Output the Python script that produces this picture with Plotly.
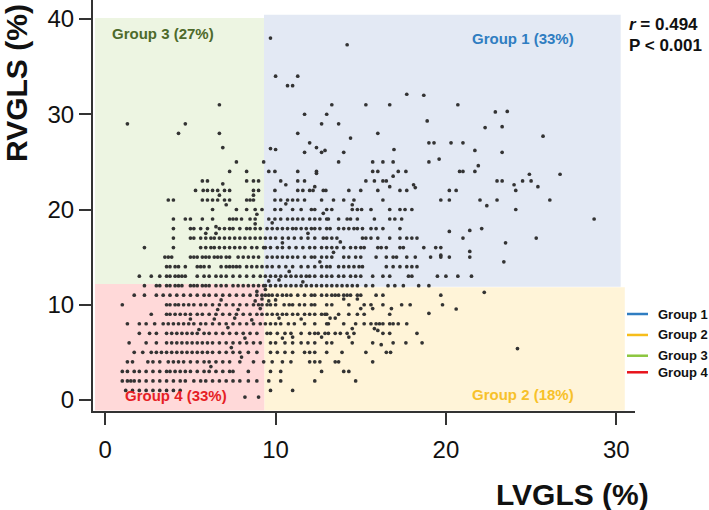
import plotly.graph_objects as go

# ---------------- data ----------------
# RVGLS levels (integer rows) and LVGLS values at each level
rv_levels = [1, 2, 3, 4, 5, 6, 7, 8, 9, 10, 11, 12, 13, 14, 15, 16, 17, 18, 19, 20, 21, 22, 23, 24, 25]
lv_by_level = [
    [1.2, 1.6, 2.0, 2.4, 2.8, 3.2, 3.6, 4.0, 4.4, 9.7, 11.0],
    [1.0, 1.3, 1.5, 1.7, 2.0, 2.4, 2.8, 3.2, 3.6, 4.0, 4.4, 4.7, 5.2, 5.6, 5.9, 6.3, 6.7, 7.1, 7.5, 7.9, 8.4, 8.9, 9.6, 10.3, 12.3, 14.7],
    [1.0, 1.3, 1.7, 2.0, 2.4, 2.8, 3.2, 3.6, 3.8, 4.1, 4.4, 4.7, 5.0, 5.4, 5.8, 6.1, 6.5, 6.9, 7.3, 7.5, 8.4, 9.7, 10.3, 12.7, 14.0, 14.3],
    [1.3, 1.6, 2.5, 2.8, 3.2, 3.7, 4.0, 4.3, 4.6, 5.0, 5.4, 5.8, 6.1, 6.5, 6.9, 7.3, 7.9, 8.7, 9.3, 9.8, 10.4, 10.9, 12.0, 12.3, 12.6, 13.5, 13.7, 15.7],
    [1.7, 2.2, 2.7, 3.0, 3.3, 3.6, 3.9, 4.2, 4.5, 4.8, 5.1, 5.4, 5.7, 6.0, 6.3, 6.7, 7.1, 7.5, 7.9, 8.4, 8.9, 9.7, 10.1, 10.55, 11.0, 11.7, 12.0, 12.3, 13.0, 13.9, 15.3, 16.5, 16.75],
    [1.4, 2.4, 3.0, 3.6, 3.9, 4.2, 4.5, 4.8, 5.1, 5.4, 5.7, 6.0, 6.3, 6.7, 7.1, 7.5, 7.9, 8.3, 8.7, 9.1, 9.7, 10.0, 10.55, 11.0, 11.5, 11.9, 12.3, 13.0, 13.3, 14.5, 15.7, 16.9, 17.65, 18.6],
    [2.0, 2.6, 3.0, 3.6, 3.9, 4.2, 4.5, 4.8, 5.1, 5.4, 5.8, 6.1, 6.5, 6.9, 7.3, 7.7, 8.1, 8.5, 8.9, 9.5, 9.7, 10.1, 10.55, 10.9, 11.5, 12.0, 12.3, 12.5, 12.9, 13.1, 13.5, 13.8, 14.2, 14.6, 16.3, 16.7, 18.3],
    [1.3, 2.0, 2.4, 2.9, 3.4, 3.7, 4.0, 4.3, 4.6, 4.9, 5.2, 5.6, 5.9, 6.3, 6.7, 7.1, 7.5, 7.9, 8.3, 8.7, 9.1, 9.4, 9.7, 10.0, 10.3, 10.75, 11.1, 11.7, 12.3, 13.0, 13.1, 14.0, 14.7, 15.2, 15.6, 15.9, 16.1, 16.3, 16.7, 16.9, 17.2, 17.7],
    [2.7, 3.6, 3.8, 4.1, 4.4, 4.7, 5.0, 5.4, 5.7, 6.1, 6.5, 6.9, 7.3, 7.7, 8.1, 8.5, 8.9, 9.2, 9.5, 9.8, 10.1, 10.4, 10.65, 11.0, 11.3, 11.7, 12.0, 12.3, 12.7, 12.9, 13.0, 13.7, 14.3, 14.8, 15.2, 16.7],
    [1.0, 3.6, 3.8, 4.1, 4.3, 4.6, 4.9, 5.2, 5.6, 5.9, 6.3, 6.7, 7.1, 7.5, 7.9, 8.3, 8.7, 9.0, 9.2, 9.5, 9.7, 10.0, 10.5, 10.8, 11.0, 11.4, 11.7, 12.1, 12.3, 13.0, 13.3, 14.3, 15.2, 15.6, 16.3, 17.4, 17.9, 19.8],
    [1.7, 2.3, 3.0, 3.4, 3.8, 4.2, 4.6, 5.0, 5.4, 5.8, 6.1, 6.5, 6.9, 7.3, 7.7, 8.1, 8.5, 8.9, 9.2, 9.4, 9.6, 9.8, 10.1, 10.4, 10.65, 10.9, 11.3, 11.7, 12.1, 12.3, 12.7, 13.0, 13.3, 13.5, 13.7, 14.0, 14.2, 14.4, 14.8, 15.0, 15.9, 16.3, 19.7],
    [2.3, 3.0, 3.2, 3.6, 3.8, 4.1, 4.3, 4.5, 5.0, 5.2, 5.4, 5.7, 5.9, 6.1, 6.5, 6.8, 7.1, 7.5, 7.8, 8.1, 8.4, 8.7, 9.0, 9.3, 9.4, 9.7, 10.0, 10.3, 10.6, 10.9, 11.2, 11.5, 11.8, 12.1, 12.4, 12.7, 13.0, 13.3, 13.6, 13.9, 14.2, 14.5, 14.8, 15.3, 15.7, 16.6, 17.0, 17.5, 18.4, 19.0],
    [2.0, 2.7, 3.2, 3.6, 3.8, 4.1, 4.3, 4.5, 4.7, 5.4, 5.8, 6.1, 6.5, 6.8, 7.1, 7.5, 7.9, 8.3, 8.7, 9.1, 9.4, 9.7, 10.0, 10.3, 10.6, 10.9, 11.2, 11.5, 11.8, 12.0, 12.3, 12.7, 13.0, 13.3, 13.7, 14.0, 14.4, 14.7, 15.0, 15.7, 16.3, 16.7, 17.8, 18.0, 19.5, 20.0, 20.7, 21.5],
    [3.6, 3.8, 4.1, 4.3, 4.7, 5.4, 5.6, 5.8, 6.1, 6.8, 7.1, 7.3, 7.5, 7.7, 7.9, 8.3, 8.6, 8.9, 9.2, 9.5, 9.8, 10.2, 10.6, 11.0, 11.5, 11.9, 12.3, 12.7, 13.0, 13.2, 13.7, 14.0, 14.3, 14.6, 14.9, 15.1, 16.5, 16.9, 17.3, 17.7, 18.0, 18.3],
    [3.5, 3.7, 3.9, 5.0, 5.2, 5.4, 5.7, 5.9, 6.1, 6.4, 6.6, 6.8, 7.1, 7.3, 7.8, 8.1, 8.4, 8.7, 9.0, 9.5, 9.8, 10.1, 10.4, 10.7, 11.0, 11.3, 11.7, 12.1, 12.3, 12.7, 13.0, 13.3, 14.0, 14.3, 14.7, 15.0, 15.9, 16.5, 16.9, 17.1, 17.7, 18.2, 19.1, 19.7, 20.2, 21.4],
    [2.3, 4.0, 5.6, 5.9, 6.2, 6.4, 6.7, 7.0, 7.3, 7.6, 7.9, 8.2, 8.6, 8.9, 9.3, 9.4, 9.7, 10.1, 10.4, 10.8, 11.2, 11.6, 12.0, 12.3, 12.7, 13.0, 13.3, 13.6, 14.0, 14.4, 14.7, 15.0, 15.2, 16.0, 16.2, 16.5, 17.3, 17.5, 18.7, 19.4, 19.7],
    [4.0, 5.0, 5.2, 5.6, 5.9, 6.2, 6.4, 6.7, 7.0, 7.3, 7.6, 7.9, 8.2, 8.5, 8.8, 9.1, 9.4, 9.7, 10.0, 10.4, 10.75, 11.1, 11.5, 11.9, 12.3, 12.8, 13.0, 13.3, 13.6, 15.1, 15.3, 15.6, 16.0, 16.7, 17.3, 17.7, 18.0, 18.3, 21.0, 25.3],
    [4.0, 5.0, 5.2, 5.6, 6.0, 6.7, 7.0, 7.3, 7.5, 7.9, 8.3, 8.5, 8.8, 9.1, 9.5, 9.8, 10.1, 10.4, 10.7, 11.0, 11.2, 11.5, 11.8, 12.1, 12.3, 12.6, 13.0, 13.2, 13.7, 14.0, 14.3, 14.6, 14.8, 15.1, 15.6, 15.9, 16.3, 17.3, 22.1],
    [4.0, 4.7, 5.0, 5.7, 6.3, 7.3, 7.5, 7.7, 8.0, 8.5, 8.8, 9.6, 9.96, 10.3, 10.7, 11.0, 11.3, 11.6, 12.0, 12.3, 12.6, 13.0, 13.1, 13.7, 14.2, 14.4, 14.8, 15.8, 16.7, 17.0, 17.4, 28.7],
    [6.3, 7.7, 8.3, 8.8, 9.2, 9.96, 10.3, 11.0, 11.5, 12.1, 12.3, 13.0, 13.3, 14.5, 14.8, 15.05, 15.6, 16.7, 17.3, 17.6, 18.0, 24.1],
    [3.7, 4.0, 5.7, 6.0, 6.3, 6.6, 7.0, 7.3, 8.3, 8.5, 8.7, 9.96, 10.3, 10.7, 11.0, 11.3, 11.7, 12.7, 13.4, 14.0, 14.6, 16.3, 19.7, 20.2, 22.0, 23.0, 26.1],
    [5.3, 5.75, 6.0, 6.3, 6.6, 7.0, 7.3, 8.7, 9.0, 9.96, 11.3, 11.6, 12.0, 12.2, 12.8, 12.95, 14.3, 15.0, 16.0, 17.3, 17.7, 20.2, 20.6, 24.1],
    [5.7, 6.0, 8.3, 8.7, 9.0, 10.3, 11.3, 11.7, 15.3, 15.8, 16.3, 16.5, 23.0, 23.3, 24.5, 25.0],
    [7.3, 8.3, 9.6, 9.96, 11.3, 12.4, 15.7, 16.0, 17.2, 17.65, 20.8, 21.0, 21.7],
    [7.7, 9.3, 13.7, 15.7, 16.3, 16.9, 19.0],
]

# additional points off the integer rows
lv_extra = [8.2, 9.0, 22.25, 23.4, 19.7, 21.4, 23.5, 20.2, 21.4, 22.4, 24.0, 25.4, 18.1, 10.6, 12.3, 16.7, 18.2,
            24.9, 26.7, 16.9, 12.4, 19.6, 21.9,
            9.7, 10.0, 11.7, 12.4, 12.9, 14.0, 16.95, 21.7, 23.3, 12.7,
            12.0, 14.4, 19.0, 19.3, 20.3, 21.0, 25.7,
            11.3, 16.0, 22.3, 23.3, 12.7, 13.7, 18.9,
            11.7, 13.0, 22.9, 23.6, 13.3, 15.3, 16.7, 20.7, 17.7, 18.7,
            10.7, 11.0, 10.0, 11.3, 14.2, 9.7,
            1.3, 4.7, 4.3, 6.7, 6.7, 6.9,
            6.7, 7.1, 5.9, 6.5, 8.7, 8.9, 8.8, 6.5, 6.9,
            6.4, 7.2, 7.8, 8.2, 6.8, 8.6, 7.4, 8.0, 6.2, 5.5, 5.0, 8.8, 9.1, 8.9, 9.2, 6.6, 7.6,
            9.4, 9.6, 10.2, 10.8, 11.6, 12.6, 13.4, 10.4, 11.9, 13.8, 9.8, 12.8, 14.5, 10.6,
            14.0, 14.8, 15.0, 15.7, 16.8, 20.6, 19.0, 10.0, 9.6, 13.2, 13.5, 10.2, 11.5,
            14.5, 15.8, 16.0, 12.7, 14.3, 10.4, 11.0, 16.2, 24.2]
rv_extra = [0.3, 0.3, 11.3, 14.5, 15.2, 15.6, 16.5, 17.7, 17.8, 20.4, 22.6, 22.4, 22.6, 22.6, 22.4, 22.4, 22.3,
            23.7, 23.7, 23.5, 23.8, 25.3, 24.6,
            26.4, 26.3, 26.0, 26.5, 26.2, 26.0, 26.3, 26.2, 26.0, 26.0,
            27.0, 27.5, 27.0, 27.0, 27.0, 27.0, 27.7,
            28.0, 28.0, 28.6, 28.7, 29.0, 29.0, 29.3,
            30.0, 30.0, 30.25, 30.3, 31.0, 31.0, 31.0, 31.0, 32.1, 32.0,
            33.0, 33.0, 34.0, 34.0, 37.3, 38.0,
            29.0, 29.0, 28.0, 28.0, 31.0, 26.5,
            21.5, 20.5, 17.5, 17.5, 21.5, 19.5, 18.5, 18.2, 22.7,
            8.5, 7.6, 9.5, 6.5, 10.5, 8.4, 5.5, 4.5, 3.5, 7.4, 8.5, 10.4, 9.6, 11.4, 10.6, 9.5, 8.6,
            11.6, 12.5, 12.6, 13.5, 12.4, 14.5, 15.5, 16.5, 17.5, 16.6, 18.6, 19.6, 20.5, 20.6,
            10.6, 10.6, 9.6, 9.6, 9.6, 9.55, 9.1, 10.5, 10.4, 8.6, 8.6, 8.6, 8.5,
            7.5, 7.5, 7.3, 6.6, 6.6, 6.5, 6.6, 5.8, 5.4]

group_names = ["Group 1", "Group 2", "Group 3", "Group 4"]
group_pct = ["33%", "18%", "27%", "33%"]
group_colors = ["#2f7dc1", "#f6bd1b", "#8cc63f", "#e8131b"]
group_text_colors = ["#2f7dc1", "#f7c12a", "#4d6a2b", "#e61e25"]
x_ticks = [0, 10, 20, 30]
y_ticks = [0, 10, 20, 30, 40]

# ---------------- build points ----------------
lv_all, rv_all = [], []
for rv, lvs in zip(rv_levels, lv_by_level):
    for lv in lvs:
        lv_all.append(lv)
        rv_all.append(rv)
lv_all += lv_extra
rv_all += rv_extra

FONT = "Arial, Liberation Sans, sans-serif"

fig = go.Figure()
fig.add_trace(go.Scatter(
    x=lv_all, y=rv_all, mode="markers",
    marker=dict(size=3.7, color="#333333", line=dict(width=0)),
    showlegend=False, hoverinfo="skip"))

# quadrant backgrounds (data coords)
rects = [
    dict(x0=-0.6, x1=9.32, y0=12.18, y1=40.1, fill="#edf5e2"),   # group 3
    dict(x0=9.32, x1=30.26, y0=11.9, y1=40.45, fill="#e3e9f4"),  # group 1
    dict(x0=-0.6, x1=9.35, y0=-1.1, y1=12.18, fill="#ffd9d9"),   # group 4
    dict(x0=9.35, x1=30.5, y0=-1.1, y1=11.84, fill="#fff4d8"),   # group 2
]
shapes = []
for r in rects:
    shapes.append(dict(type="rect", xref="x", yref="y", x0=r["x0"], x1=r["x1"], y0=r["y0"], y1=r["y1"],
                       fillcolor=r["fill"], line=dict(width=0), layer="below"))

# manual legend (paper coords)
leg_y = [0.236, 0.185, 0.1345, 0.0942]
annotations = []
for name, col, yy in zip(group_names, group_colors, leg_y):
    shapes.append(dict(type="line", xref="paper", yref="paper", x0=0.9852, x1=1.0240, y0=yy, y1=yy,
                       line=dict(color=col, width=2.5)))
    annotations.append(dict(xref="paper", yref="paper", x=1.038, y=yy, text="<b>%s</b>" % name,
                            showarrow=False, xanchor="left", yanchor="middle",
                            font=dict(family=FONT, size=13, color="#111111")))

# group labels in quadrants
label_pos = [(24.53, 37.97), (24.53, 0.53), (3.36, 38.5), (4.15, 0.47)]
for name, pct, col, (lx, ly) in zip(group_names, group_pct, group_text_colors, label_pos):
    annotations.append(dict(xref="x", yref="y", x=lx, y=ly, text="<b>%s (%s)</b>" % (name, pct),
                            showarrow=False, xanchor="center", yanchor="middle",
                            font=dict(family=FONT, size=15, color=col)))

# stats
annotations.append(dict(xref="paper", yref="paper", x=0.985, y=0.940, text="<b><i>r</i> = 0.494</b>",
                        showarrow=False, xanchor="left", yanchor="middle",
                        font=dict(family=FONT, size=17, color="#111111")))
annotations.append(dict(xref="paper", yref="paper", x=0.985, y=0.8905, text="<b>P &lt; 0.001</b>",
                        showarrow=False, xanchor="left", yanchor="middle",
                        font=dict(family=FONT, size=17, color="#111111")))

# axis titles
annotations.append(dict(xref="paper", yref="paper", x=-0.1415, y=0.799, text="<b>RVGLS (%)</b>",
                        textangle=-90, showarrow=False, xanchor="center", yanchor="middle",
                        font=dict(family=FONT, size=30, color="#111111")))
annotations.append(dict(xref="paper", yref="paper", x=0.8847, y=-0.2034, text="<b>LVGLS (%)</b>",
                        showarrow=False, xanchor="center", yanchor="middle",
                        font=dict(family=FONT, size=30, color="#111111")))

fig.update_layout(
    width=709, height=510,
    margin=dict(l=93, r=74, t=0, b=99),
    paper_bgcolor="white", plot_bgcolor="white",
    shapes=shapes, annotations=annotations,
    showlegend=False,
    font=dict(family=FONT, color="#111111"),
)
axis_common = dict(showgrid=False, zeroline=False, showline=True, linecolor="#333333", linewidth=2,
                   ticks="outside", ticklen=12, tickwidth=2, tickcolor="#333333",
                   tickfont=dict(family=FONT, size=24, color="#111111"), fixedrange=True)
fig.update_xaxes(range=[-0.72, 31.1], tickvals=x_ticks, ticktext=[str(v) for v in x_ticks],
                 ticklabelstandoff=4, **axis_common)
fig.update_yaxes(range=[-1.16, 42.0], tickvals=y_ticks, ticktext=[str(v) for v in y_ticks], **axis_common)

fig.write_html("out.html", config={"displayModeBar": False},
               post_script="document.body.style.margin='0';document.body.style.padding='0';document.body.style.overflow='hidden';")
